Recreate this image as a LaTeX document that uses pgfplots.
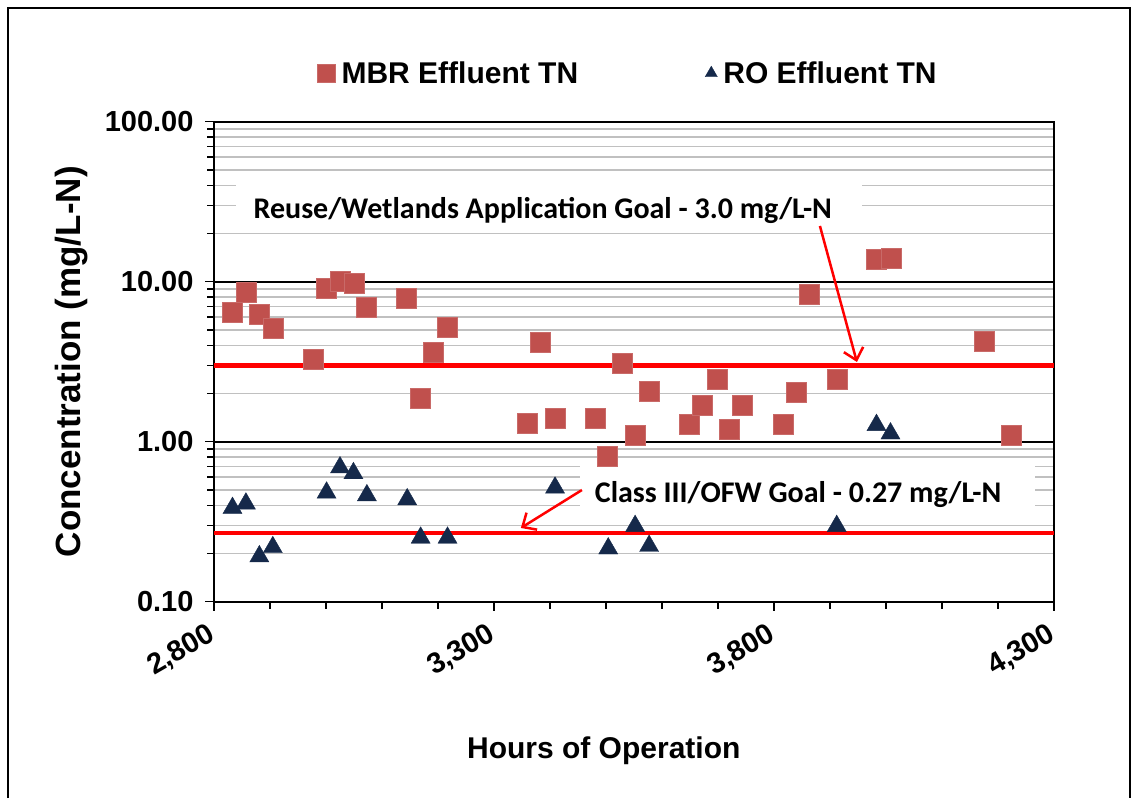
\documentclass[border=0pt]{standalone}
\usepackage{pgfplots}
\pgfplotsset{compat=1.18}
\usepackage{fontspec}
\setmainfont{Liberation Sans}
\newfontfamily\calibri{Carlito}
\usetikzlibrary{arrows.meta}
\definecolor{mbr}{HTML}{C0504D}
\definecolor{ro}{HTML}{15294A}
\definecolor{gridgray}{HTML}{C0C0C0}
\begin{document}
\begin{tikzpicture}
\useasboundingbox (0pt,0pt) rectangle (1132pt,798pt);
\draw[line width=1.5pt] (8pt,0pt) -- (8pt,790pt) -- (1130pt,790pt) -- (1130pt,0pt);
\begin{axis}[
  at={(214pt,196.3pt)}, anchor=south west,
  scale only axis, width=840pt, height=480pt,
  ymode=log, xmin=2800, xmax=4300, ymin=0.1, ymax=100,
  xtick={2800,3300,3800,4300}, minor x tick num=4,
  ytick={0.1,1,10,100},
  yticklabels={0.10,1.00,10.00,100.00},
  yticklabel style={xshift=-8pt},
  xticklabel style={/pgf/number format/assume math mode=true, yshift=-20pt, xshift=2pt, rotate=30, anchor=east},
  tick label style={font=\fontsize{29}{34}\selectfont\bfseries},
  tick align=outside, xtick pos=bottom, ytick pos=left,
  major tick length=9pt, minor tick length=7pt,
  tick style={black, line width=1.5pt},
  ymajorgrids=true, yminorgrids=true,
  major grid style={black, line width=1.8pt},
  minor grid style={gridgray, line width=1.6pt},
  axis line style={line width=2.2pt},
  xlabel={Hours of Operation},
  ylabel={Concentration (mg/L-N)},
  xlabel style={font=\fontsize{30}{36}\selectfont\bfseries, at={(axis description cs:0.464,-0.326)}, anchor=base},
  ylabel style={font=\fontsize{35}{40}\selectfont\bfseries, at={(axis description cs:-0.1595,0.5)}, anchor=base},
  legend style={at={(axis description cs:0.493,1.101)}, anchor=center, draw=none, fill=none,
    font=\fontsize{30}{35}\selectfont\bfseries, legend columns=2,
    /tikz/every odd column/.append style={column sep=4pt},
    /tikz/every even column/.append style={column sep=125pt}},
  clip=false,
]
\addplot[only marks, mark=square*, mark size=10pt, mark options={fill=mbr, draw=mbr!85!white},
  legend image post style={mark size=9pt}] coordinates {
(2832,6.44) (2857,8.54) (2880,6.28) (2906,5.11) (2977,3.30) (3000,9.09)
(3026,10.0) (3050,9.77) (3071,6.92) (3143,7.94) (3169,1.86) (3192,3.62)
(3217,5.23) (3360,1.31) (3383,4.16) (3409,1.41) (3480,1.41) (3503,0.806)
(3529,3.09) (3552,1.10) (3577,2.08) (3649,1.28) (3671,1.70) (3698,2.45)
(3720,1.20) (3743,1.70) (3817,1.29) (3840,2.04) (3863,8.30) (3912,2.45)
(3983,13.8) (4009,14.1) (4175,4.26) (4223,1.10)
};
\addlegendentry{MBR Effluent TN}
\addplot[only marks, mark=triangle*, mark size=11pt, mark options={fill=ro, draw=ro},
  legend image post style={mark size=7pt}] coordinates {
(2833,0.385) (2857,0.41) (2881,0.192) (2905,0.219) (3001,0.48) (3025,0.69)
(3049,0.635) (3073,0.462) (3145,0.436) (3169,0.251) (3217,0.251) (3409,0.516)
(3504,0.215) (3552,0.297) (3577,0.223) (3912,0.297) (3983,1.27) (4008,1.125)
};
\addlegendentry{RO Effluent TN}
\addplot[red, line width=4.3pt, forget plot] coordinates {(2800,3.0) (4300,3.0)};
\addplot[red, line width=4.3pt, forget plot] coordinates {(2800,0.27) (4300,0.27)};
\node[fill=white, minimum width=626pt, minimum height=53pt, inner sep=0pt] at (axis cs:3398,31.7) {};
\node[anchor=base, inner sep=0pt, font=\calibri\fontsize{30}{36}\selectfont\bfseries] at (axis cs:3387,24.9)
  {Reuse/Wetlands Application Goal - 3.0 mg/L-N};
\node[fill=white, minimum width=455pt, minimum height=54pt, inner sep=0pt] at (axis cs:3859,0.514) {};
\node[anchor=base, inner sep=0pt, font=\calibri\fontsize{30}{36}\selectfont\bfseries] at (axis cs:3843,0.414)
  {Class III/OFW Goal - 0.27 mg/L-N};
\draw[red, line width=2.5pt, -{Straight Barb[length=11pt,width=20pt]}] (axis cs:3882,22.3) -- (axis cs:3948,3.15);
\draw[red, line width=2.5pt, -{Straight Barb[length=11pt,width=20pt]}] (axis cs:3457,0.499) -- (axis cs:3348,0.289);
\end{axis}
\end{tikzpicture}
\end{document}
